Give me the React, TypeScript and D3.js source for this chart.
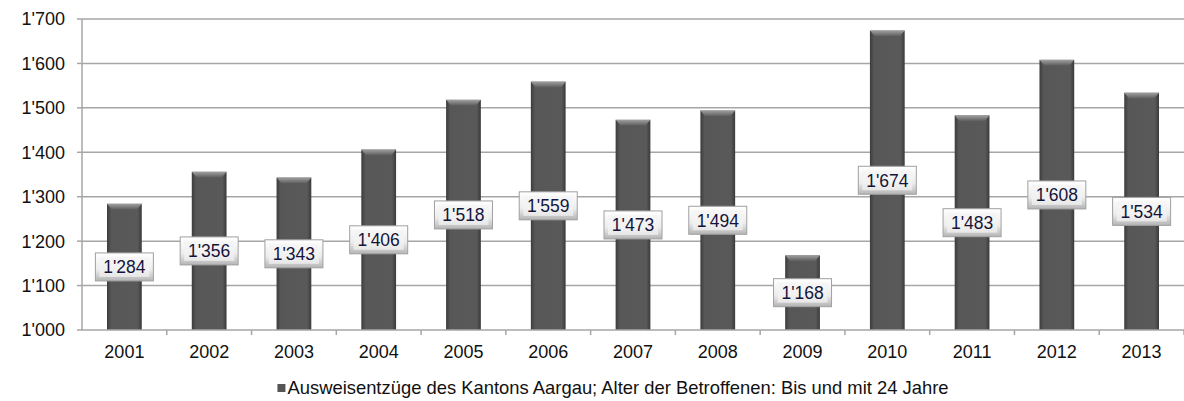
import React, { useRef, useEffect } from 'react';
import * as d3 from 'd3';

const years = ["2001", "2002", "2003", "2004", "2005", "2006", "2007", "2008", "2009", "2010", "2011", "2012", "2013"];
const values = [1284, 1356, 1343, 1406, 1518, 1559, 1473, 1494, 1168, 1674, 1483, 1608, 1534];
const yTicks = [1000, 1100, 1200, 1300, 1400, 1500, 1600, 1700];
const legendLabel = "Ausweisentzüge des Kantons Aargau; Alter der Betroffenen: Bis und mit 24 Jahre";

const fmt = (v: number) => {
  const s = String(v);
  return s.length > 3 ? s.slice(0, s.length - 3) + "'" + s.slice(-3) : s;
};

const App: React.FC = () => {
  const svgRef = useRef<SVGSVGElement | null>(null);

  useEffect(() => {
    const width = 1184;
    const height = 401;
    const margin = { top: 19, right: 0, bottom: 71, left: 82 };
    const chartW = width - margin.left - margin.right;
    const chartH = height - margin.top - margin.bottom;

    const svg = d3.select(svgRef.current);
    svg.selectAll("*").remove();
    svg.attr("width", width).attr("height", height)
      .style("font-family", "'Liberation Sans', Arial, sans-serif");

    const defs = svg.append("defs");
    const barGrad = defs.append("linearGradient").attr("id", "barGrad")
      .attr("x1", "0").attr("x2", "1").attr("y1", "0").attr("y2", "0");
    barGrad.append("stop").attr("offset", "0%").attr("stop-color", "#3c3c3c");
    barGrad.append("stop").attr("offset", "12%").attr("stop-color", "#575757");
    barGrad.append("stop").attr("offset", "88%").attr("stop-color", "#595959");
    barGrad.append("stop").attr("offset", "100%").attr("stop-color", "#3a3a3a");

    const topGrad = defs.append("linearGradient").attr("id", "topGrad")
      .attr("x1", "0").attr("x2", "0").attr("y1", "0").attr("y2", "1");
    topGrad.append("stop").attr("offset", "0%").attr("stop-color", "#a0a0a0");
    topGrad.append("stop").attr("offset", "100%").attr("stop-color", "#5a5a5a");

    const boxGrad = defs.append("linearGradient").attr("id", "boxGrad")
      .attr("x1", "0").attr("x2", "0").attr("y1", "0").attr("y2", "1");
    boxGrad.append("stop").attr("offset", "0%").attr("stop-color", "#ffffff");
    boxGrad.append("stop").attr("offset", "60%").attr("stop-color", "#ececec");
    boxGrad.append("stop").attr("offset", "100%").attr("stop-color", "#b4b4b4");

    const g = svg.append("g").attr("transform", `translate(${margin.left},${margin.top})`);

    const x = d3.scaleBand().domain(years).range([0, chartW]).paddingInner(0.59).paddingOuter(0.295);
    const xb = d3.scaleBand().domain(years).range([0, chartW]);
    const y = d3.scaleLinear().domain([1000, 1700]).range([chartH, 0]);

    // gridlines
    g.append("g").selectAll("line").data(yTicks.filter(t => t > 1000)).join("line")
      .attr("x1", 0).attr("x2", chartW)
      .attr("y1", d => y(d)).attr("y2", d => y(d))
      .attr("stroke", "#a6a6a6").attr("stroke-width", 1.5);

    // y axis line and labels
    g.append("line").attr("x1", 0).attr("x2", 0).attr("y1", 0).attr("y2", chartH)
      .attr("stroke", "#a6a6a6").attr("stroke-width", 1.5);
    g.append("g").selectAll("line").data(yTicks).join("line")
      .attr("x1", -5).attr("x2", 0).attr("y1", d => y(d)).attr("y2", d => y(d))
      .attr("stroke", "#a6a6a6").attr("stroke-width", 1.5);
    g.append("g").selectAll("text").data(yTicks).join("text")
      .attr("x", -17).attr("y", d => y(d)).attr("dy", "0.36em")
      .attr("text-anchor", "end").attr("font-size", 18).attr("fill", "#111")
      .text(d => fmt(d));

    // bars
    const bars = g.append("g").selectAll("g").data(values).join("g");
    bars.append("rect")
      .attr("x", (d, i) => x(years[i])!)
      .attr("y", d => y(d))
      .attr("width", x.bandwidth())
      .attr("height", d => chartH - y(d))
      .attr("fill", "url(#barGrad)");
    bars.append("path")
      .attr("d", (d, i) => {
        const x0 = x(years[i])!;
        const w = x.bandwidth();
        const t = y(d);
        return `M${x0},${t}L${x0 + w},${t}L${x0 + w - 5},${t + 6}L${x0 + 5},${t + 6}Z`;
      })
      .attr("fill", "url(#topGrad)");

    // x axis
    g.append("line").attr("x1", 0).attr("x2", chartW).attr("y1", chartH).attr("y2", chartH)
      .attr("stroke", "#a6a6a6").attr("stroke-width", 1.5);
    g.append("g").selectAll("line").data(years).join("line")
      .attr("x1", d => xb(d)! + xb.bandwidth()).attr("x2", d => xb(d)! + xb.bandwidth())
      .attr("y1", chartH).attr("y2", chartH + 5)
      .attr("stroke", "#a6a6a6").attr("stroke-width", 1.5);
    g.append("g").selectAll("text").data(years).join("text")
      .attr("x", d => xb(d)! + xb.bandwidth() / 2).attr("y", chartH + 28)
      .attr("text-anchor", "middle").attr("font-size", 18).attr("fill", "#111")
      .text(d => d);

    // data labels
    const lbl = g.append("g").selectAll("g").data(values).join("g")
      .attr("transform", (d, i) => `translate(${x(years[i])! + x.bandwidth() / 2},${(y(d) + chartH) / 2})`);
    lbl.append("rect")
      .attr("x", -29).attr("y", -14).attr("width", 58).attr("height", 28)
      .attr("fill", "url(#boxGrad)").attr("stroke", "#a0a0a0").attr("stroke-width", 1);
    lbl.append("rect")
      .attr("x", -25).attr("y", -10).attr("width", 50).attr("height", 20)
      .attr("fill", "#f4f4f4").attr("opacity", 0.7);
    lbl.append("text")
      .attr("y", 0).attr("dy", "0.36em").attr("text-anchor", "middle")
      .attr("font-size", 17.5).attr("fill", "#14143a")
      .text(d => fmt(d));

    // legend
    const leg = svg.append("g").attr("transform", `translate(${width / 2 + 26},${388})`);
    const legText = leg.append("text").attr("x", 0).attr("y", 0).attr("dy", "0.35em")
      .attr("text-anchor", "middle").attr("font-size", 18.4).attr("fill", "#111")
      .text(legendLabel);
    const bb = (legText.node() as SVGTextElement).getBBox();
    leg.append("rect").attr("x", bb.x - 10).attr("y", -4).attr("width", 8).attr("height", 8)
      .attr("fill", "#555");
  }, []);

  return (
    <svg ref={svgRef} style={{ position: "absolute", left: 0, top: 0 }}></svg>
  );
};

export default App;
